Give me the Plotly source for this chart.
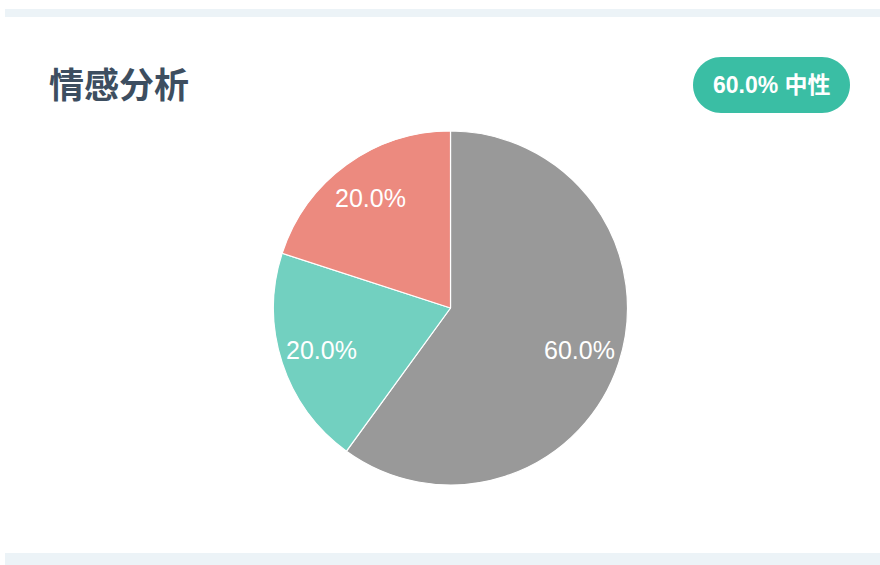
import math
import plotly.graph_objects as go

# ---- data ----
labels = ["中性", "正面", "负面"]
values = [60.0, 20.0, 20.0]
colors = ["#999999", "#72d0c0", "#ec8a7f"]
title_text = "情感分析"
badge_text = "60.0% 中性"

W, H = 880, 565
CX, CY, R = 450.5, 308.0, 177.0
LABEL_R = 136.0


def px(x):
    return x / W


def py(y):
    return 1 - y / H


fig = go.Figure()
fig.add_trace(go.Pie(
    labels=labels,
    values=values,
    sort=False,
    direction="clockwise",
    rotation=0,
    marker=dict(colors=colors, line=dict(color="#ffffff", width=1.2)),
    textinfo="none",
    hole=0,
    showlegend=False,
    domain=dict(x=[px(CX - R), px(CX + R)], y=[py(CY + R), py(CY - R)]),
))

# slice labels at a fixed radius, computed from the values
total = sum(values)
acc = 0.0
annotations = []
for v in values:
    mid = (acc + v / 2) / total * 2 * math.pi
    acc += v
    lx = CX + LABEL_R * math.sin(mid)
    ly = CY - LABEL_R * math.cos(mid)
    annotations.append(dict(
        x=px(lx), y=py(ly), xref="paper", yref="paper",
        text=f"{v / total * 100:.1f}%", showarrow=False,
        xanchor="center", yanchor="middle",
        font=dict(family="Liberation Sans, Noto Sans CJK SC, sans-serif", size=25, color="#ffffff"),
    ))

# title
annotations.append(dict(
    x=px(47), y=py(82), xref="paper", yref="paper", text=f"<b>{title_text}</b>",
    showarrow=False, xanchor="left", yanchor="middle",
    font=dict(family="Noto Sans CJK SC, sans-serif", size=35, color="#3d4e60"),
))
# badge text
annotations.append(dict(
    x=px(771.5), y=py(85), xref="paper", yref="paper", text=f"<b>{badge_text}</b>",
    showarrow=False, xanchor="center", yanchor="middle",
    font=dict(family="Liberation Sans, Noto Sans CJK SC, sans-serif", size=23, color="#ffffff"),
))


def rounded_pill(x0, y0, x1, y1):
    r = (y1 - y0) / 2
    k = 0.5523 * r
    pts = [
        ("M", [(x0 + r, y0)]),
        ("L", [(x1 - r, y0)]),
        ("C", [(x1 - r + k, y0), (x1, y0 + r - k), (x1, y0 + r)]),
        ("C", [(x1, y0 + r + k), (x1 - r + k, y1), (x1 - r, y1)]),
        ("L", [(x0 + r, y1)]),
        ("C", [(x0 + r - k, y1), (x0, y1 - r + k), (x0, y1 - r)]),
        ("C", [(x0, y1 - r - k), (x0 + r - k, y0), (x0 + r, y0)]),
    ]
    s = ""
    for cmd, ps in pts:
        s += cmd + " " + " ".join(f"{px(a):.5f},{py(b):.5f}" for a, b in ps) + " "
    return s + "Z"


shapes = [
    dict(type="rect", xref="paper", yref="paper", x0=px(5), x1=1, y0=py(17), y1=py(9),
         fillcolor="#ecf3f7", line=dict(width=0), layer="below"),
    dict(type="rect", xref="paper", yref="paper", x0=px(5), x1=1, y0=0, y1=py(553),
         fillcolor="#ecf3f7", line=dict(width=0), layer="below"),
    dict(type="path", xref="paper", yref="paper", path=rounded_pill(693, 57, 850, 113),
         fillcolor="#3abea4", line=dict(width=0), layer="below"),
]

fig.update_layout(
    width=W, height=H,
    margin=dict(l=0, r=0, t=0, b=0),
    paper_bgcolor="#ffffff", plot_bgcolor="#ffffff",
    annotations=annotations, shapes=shapes,
)

fig.write_html(
    "out.html",
    config={"displayModeBar": False},
    post_script="document.body.style.margin='0';document.body.style.padding='0';",
)
